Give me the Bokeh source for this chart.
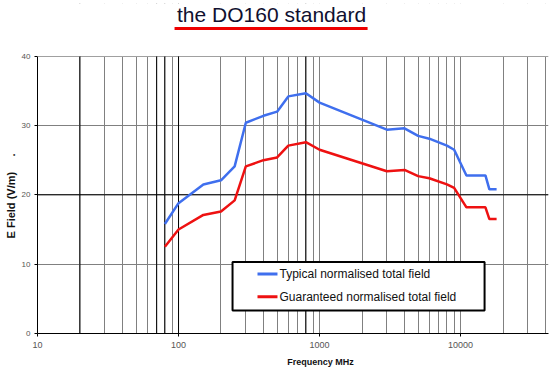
from bokeh.plotting import figure
from bokeh.models import (Range1d, FixedTicker, Label, Arrow, BoxAnnotation, Span,
                          NumeralTickFormatter)
from bokeh.embed import file_html
from bokeh.resources import INLINE

# ---- data ----
freq = [80, 100, 150, 200, 250, 300, 400, 500, 600, 800, 1000, 3000, 4000, 5000,
        6000, 8000, 9000, 11000, 15000, 16000, 18000]
typical = [15.8, 18.8, 21.5, 22.1, 24.1, 30.4, 31.4, 32.0, 34.2, 34.65, 33.3, 29.4,
           29.6, 28.5, 28.1, 27.1, 26.5, 22.8, 22.8, 20.8, 20.8]
guaranteed = [12.5, 15.0, 17.1, 17.6, 19.2, 24.1, 25.0, 25.4, 27.1, 27.6, 26.5, 23.4,
              23.6, 22.7, 22.4, 21.5, 21.0, 18.2, 18.2, 16.5, 16.5]
x_major = [10, 100, 1000, 10000]
x_minor = [m * d for d in [10, 100, 1000, 10000] for m in range(2, 10) if m * d <= 40000]
y_ticks = [0, 10, 20, 30, 40]
dark_x = [20, 70, 80, 100, 800]
dark_y = [20]
title_text = "the DO160 standard"
series_names = ["Typical normalised total field", "Guaranteed normalised total field"]
x_title = "Frequency MHz"
y_title = "E Field (V/m)"
blue = "#3f6fee"
red = "#ee1111"
NB = "\u00a0"

p = figure(width=560, height=369, x_axis_type="log",
           x_range=Range1d(10, 42000), y_range=Range1d(0, 332 / 6.975),
           output_backend="svg", toolbar_location=None,
           min_border_left=37, min_border_right=12, min_border_top=3, min_border_bottom=34)
p.outline_line_color = None
p.background_fill_color = "white"
p.border_fill_color = "white"

# axes
p.xaxis.ticker = FixedTicker(ticks=x_major, minor_ticks=x_minor)
p.xaxis.formatter = NumeralTickFormatter(format="0")
p.yaxis.ticker = FixedTicker(ticks=y_ticks)
p.yaxis.bounds = (0, 40)
for ax in (p.xaxis, p.yaxis):
    ax.axis_line_color = "black"
    ax.major_tick_line_color = "black"
    ax.minor_tick_line_color = None
    ax.major_tick_in = 0
    ax.major_tick_out = 3
    ax.major_label_text_font = "Liberation Sans"
    ax.major_label_text_color = "#555555"
    ax.axis_label_text_font = "Liberation Sans"
    ax.axis_label_text_font_style = "bold"
    ax.axis_label_text_color = "#111111"
p.xaxis.major_label_text_font_size = "9px"
p.yaxis.major_label_text_font_size = "8px"
p.xaxis.major_label_standoff = 4
p.yaxis.major_label_standoff = 4
p.xaxis.axis_label = NB * 22 + x_title
p.xaxis.axis_label_text_font_size = "9px"
p.xaxis.axis_label_standoff = 6
p.yaxis.axis_label = y_title + NB * 5 + "." + NB * 18
p.yaxis.axis_label_text_font_size = "11px"
p.yaxis.axis_label_standoff = 2

# grid
p.xgrid.ticker = FixedTicker(ticks=x_major, minor_ticks=x_minor)
p.ygrid.ticker = FixedTicker(ticks=y_ticks)
p.xgrid.grid_line_color = "#808080"
p.xgrid.minor_grid_line_color = "#808080"
p.ygrid.grid_line_color = "#808080"
for v in dark_x:
    p.add_layout(Span(location=v, dimension="height", line_color="black", line_width=1, level="underlay"))
for v in dark_y:
    p.add_layout(Span(location=v, dimension="width", line_color="black", line_width=1, level="underlay"))

# curves
p.line(freq, typical, line_color=blue, line_width=2.5)
p.line(freq, guaranteed, line_color=red, line_width=2.5)

# blank area above the plot (title region)
p.add_layout(BoxAnnotation(bottom=40, top=100, left=1, right=1e6,
                           fill_color="white", fill_alpha=1.0, line_color=None))

# legend (drawn manually to match box proportions)
p.add_layout(BoxAnnotation(left=241.5, right=14790, bottom=3.30, top=10.32,
                           fill_color="white", fill_alpha=1.0,
                           line_color="black", line_width=2, line_alpha=1.0))
for yv, col, name in [(8.60, blue, series_names[0]), (5.30, red, series_names[1])]:
    p.add_layout(Arrow(end=None, x_start=363, y_start=yv, x_end=503, y_end=yv,
                       line_color=col, line_width=3))
    p.add_layout(Label(x=520, y=yv, text=name, text_baseline="middle", text_align="left",
                       text_font="Liberation Sans", text_font_size="12px", text_color="#111111"))

# title with red underline
p.add_layout(Label(x=456.7, y=46.0, text=title_text, text_align="center",
                   text_baseline="middle", text_font="Liberation Sans",
                   text_font_size="21px", text_color="#101030"))
p.add_layout(Arrow(end=None, x_start=93.7, y_start=44.0, x_end=2190, y_end=44.0,
                   line_color="#ee0000", line_width=3))

open("out.html", "w").write(file_html(p, INLINE))
